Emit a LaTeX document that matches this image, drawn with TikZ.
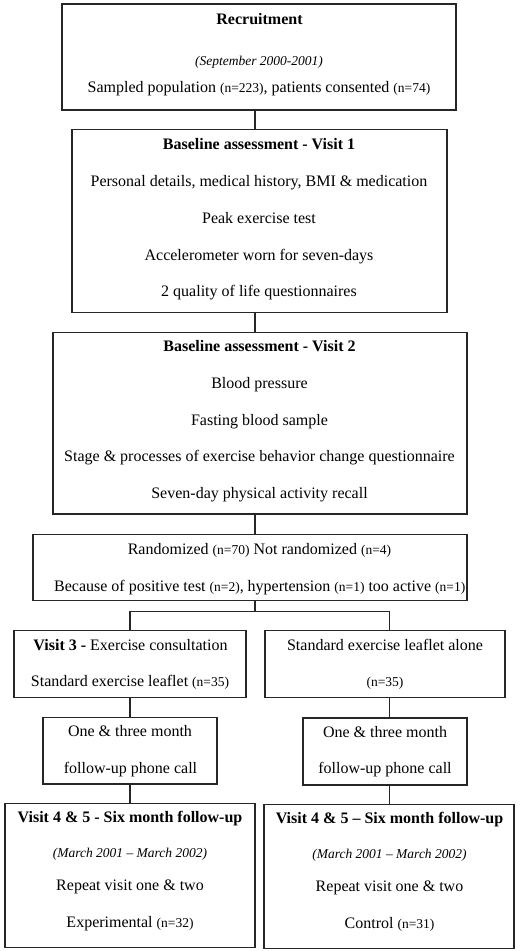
\documentclass[tikz,border=0pt]{standalone}
\usepackage{fontspec}
\setmainfont{Liberation Serif}
\newcommand{\nn}[1]{{\fontsize{13.5}{15}\selectfont #1}}
\newcommand{\dt}[1]{{\fontsize{13.5}{15}\selectfont\itshape #1}}
\begin{document}
\begin{tikzpicture}[x=1pt,y=-1pt,
  box/.style={draw=black!85,line width=1.3pt,rectangle,inner sep=0pt},
  txt/.style={anchor=base,inner sep=0pt,font=\fontsize{16}{18}\selectfont},
  conn/.style={draw=black!85,line width=1.3pt}]
\useasboundingbox (0,0) rectangle (520,951);
% boxes
\node[box,minimum width=394pt,minimum height=106pt] (rec) at (259,57) {};
\node[box,minimum width=375pt,minimum height=183.4pt] (v1) at (259.5,221) {};
\node[box,minimum width=414pt,minimum height=181.7pt] (v2) at (260,423.2) {};
\node[box,minimum width=434pt,minimum height=66.4pt] (rand) at (250,567.5) {};
\node[box,minimum width=232pt,minimum height=66.6pt] (v3L) at (130,664) {};
\node[box,minimum width=240pt,minimum height=66.6pt] (v3R) at (385,664) {};
\node[box,minimum width=174pt,minimum height=66.7pt] (phL) at (130,750.7) {};
\node[box,minimum width=164pt,minimum height=67pt] (phR) at (385,751.5) {};
\node[box,minimum width=250pt,minimum height=144pt] (vL) at (130,875.3) {};
\node[box,minimum width=250pt,minimum height=144pt] (vR) at (389,876.3) {};
% texts
\node[txt] (t1a) at (259.5,24) {\textbf{Recruitment}};
\node[txt] (t1b) at (259,65) {\dt{(September 2000-2001)}};
\node[txt] (t1c) at (259,92) {Sampled population \nn{(n=223)}, patients consented \nn{(n=74)}};
\node[txt] (t2a) at (259,149.5) {\textbf{Baseline assessment - Visit 1}};
\node[txt] (t2b) at (259,186) {Personal details, medical history, BMI \& medication};
\node[txt] (t2c) at (259,223.3) {Peak exercise test};
\node[txt] (t2d) at (259,260.7) {Accelerometer worn for seven-days};
\node[txt] (t2e) at (259,296.7) {2 quality of life questionnaires};
\node[txt] (t3a) at (259.5,351.7) {\textbf{Baseline assessment - Visit 2}};
\node[txt] (t3b) at (259.5,388.3) {Blood pressure};
\node[txt] (t3c) at (259.5,425) {Fasting blood sample};
\node[txt] (t3d) at (259.5,461.7) {Stage \& processes of exercise behavior change questionnaire};
\node[txt] (t3e) at (259.5,498.3) {Seven-day physical activity recall};
\node[txt] (t4a) at (259.5,554.3) {Randomized \nn{(n=70)} Not randomized \nn{(n=4)}};
\node[txt] (t4b) at (259.7,591.7) {Because of positive test \nn{(n=2)}, hypertension \nn{(n=1)} too active \nn{(n=1)}};
\node[txt] (t5a) at (130.5,650) {\textbf{Visit 3 -} Exercise consultation};
\node[txt] (t5b) at (130,686.7) {Standard exercise leaflet \nn{(n=35)}};
\node[txt] (t5c) at (385,650) {Standard exercise leaflet alone};
\node[txt] (t5d) at (385,686.7) {\nn{(n=35)}};
\node[txt] (t6a) at (130,736.7) {One \& three month};
\node[txt] (t6b) at (130.5,773.3) {follow-up phone call};
\node[txt] (t6c) at (385,737.2) {One \& three month};
\node[txt] (t6d) at (385,773.8) {follow-up phone call};
\node[txt] (t7a) at (130,822.7) {\textbf{Visit 4 \& 5 - Six month follow-up}};
\node[txt] (t7b) at (130,857.7) {\dt{(March 2001 -- March 2002)}};
\node[txt] (t7c) at (130,890) {Repeat visit one \& two};
\node[txt] (t7d) at (130,927.3) {Experimental \nn{(n=32)}};
\node[txt] (t7e) at (389.5,823.7) {\textbf{Visit 4 \& 5 -- Six month follow-up}};
\node[txt] (t7f) at (389.5,858.7) {\dt{(March 2001 -- March 2002)}};
\node[txt] (t7g) at (389.5,891) {Repeat visit one \& two};
\node[txt] (t7h) at (389.5,928.3) {Control \nn{(n=31)}};
% connectors
\coordinate (cM) at (255,0);
\coordinate (cL) at (130,0);
\coordinate (cR) at (389.3,0);
\coordinate (br) at (255,611.7);
\draw[conn] (rec.south -| cM) -- (v1.north -| cM);
\draw[conn] (v1.south -| cM) -- (v2.north -| cM);
\draw[conn] (v2.south -| cM) -- (rand.north -| cM);
\draw[conn] (rand.south -| cM) -- (br);
\draw[conn] (v3L.north -| cL) |- (br) -| (v3R.north -| cR);
\draw[conn] (v3L.south -| cL) -- (phL.north -| cL);
\draw[conn] (phL.south -| cL) -- (vL.north -| cL);
\draw[conn] (v3R.south -| cR) -- (phR.north -| cR);
\draw[conn] (phR.south -| cR) -- (vR.north -| cR);
\end{tikzpicture}
\end{document}
